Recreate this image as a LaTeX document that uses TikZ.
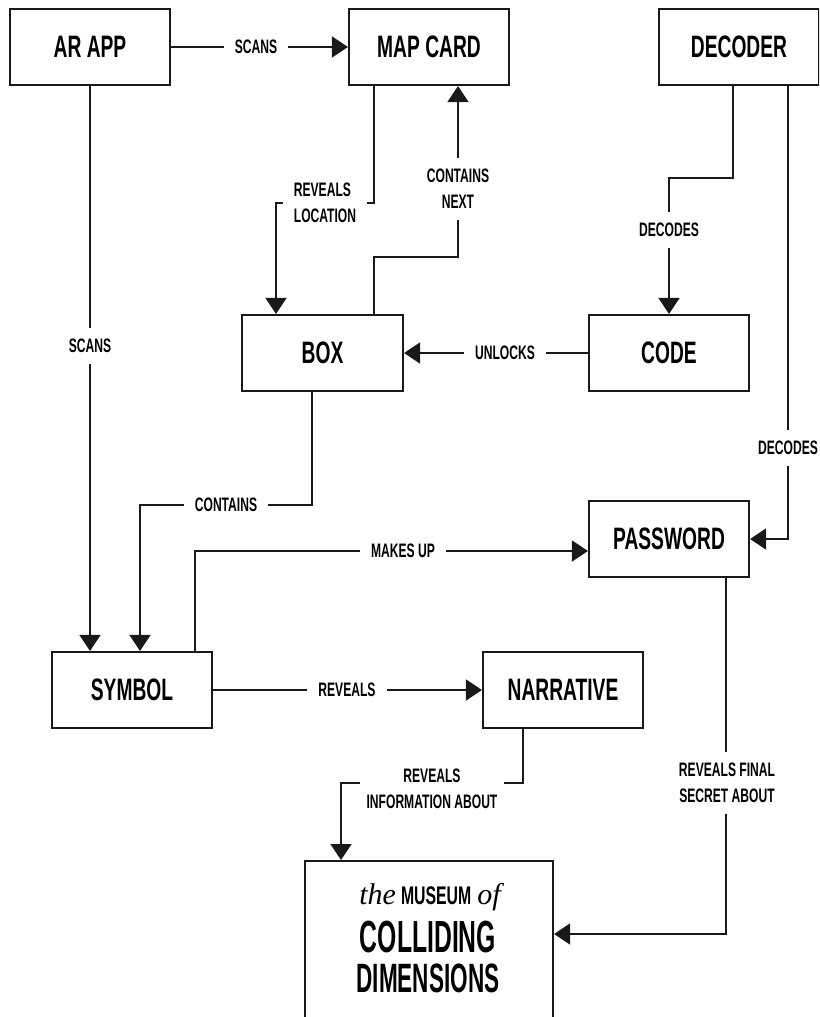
\documentclass[tikz,border=0pt]{standalone}
\usepackage{fontspec}
\usetikzlibrary{arrows.meta}
\newfontfamily\bebas{Liberation Sans}[UprightFont={* Bold},FakeStretch=0.62]
\newfontfamily\bebasN{Liberation Sans}[UprightFont={* Bold},FakeStretch=0.55]
\newfontfamily\garit{Liberation Serif}[UprightFont={* Italic}]
\begin{document}
\begin{tikzpicture}[x=1pt,y=-1pt]
\tikzset{
  ent/.style={draw=black!90, line width=2.2pt, minimum width=160pt, minimum height=76pt, inner sep=0pt, font=\bebas\fontsize{31}{36}\selectfont},
  conn/.style={line width=1.9pt, draw=black!90},
  arr/.style={conn, -{Triangle[width=21pt,length=16pt]}},
  lbl/.style={fill=white, inner xsep=11pt, inner ysep=11pt, font=\bebas\fontsize{19.5}{26}\selectfont, align=center},
}
\clip (0,0) rectangle (819,1017);
\fill[white] (0,0) rectangle (819,1017);

% entities
\node[ent] (arapp) at (90,47) {AR APP};
\node[ent] (mapcard) at (429,47) {MAP CARD};
\node[ent] (decoder) at (739,47) {DECODER};
\node[ent, minimum width=161pt] (box) at (322.5,353) {BOX};
\node[ent] (code) at (669,353) {CODE};
\node[ent] (password) at (669,539) {PASSWORD};
\node[ent] (symbol) at (132,690) {SYMBOL};
\node[ent] (narrative) at (563,690) {NARRATIVE};
\node[draw=black!90, line width=2.2pt, minimum width=248pt, minimum height=240pt, anchor=north] (museum) at (429,860) {};
\node[anchor=base, inner sep=0pt] (mt1) at (430,904) {{\garit\fontsize{30}{30}\selectfont the}\hspace{5pt}{\bebas\fontsize{25.5}{25.5}\selectfont MUSEUM}\hspace{6pt}{\garit\fontsize{30}{30}\selectfont of}};
\node[anchor=base, inner sep=0pt, font=\bebasN\fontsize{45}{45}\selectfont] (mt2) at (428,952) {COLLIDING};
\node[anchor=base, inner sep=0pt, font=\bebasN\fontsize{41}{41}\selectfont] (mt3) at (428,992) {DIMENSIONS};

% connectors
\draw[arr] (arapp.east) -- (mapcard.west);
\node[lbl] (l1) at (256,47) {SCANS};

\draw[arr] (arapp.south) -- (arapp.south |- symbol.north);
\node[lbl] (l2) at (90,346) {SCANS};

\coordinate (a1) at (374,203);
\coordinate (a2) at (276,203);
\draw[arr] (mapcard.south -| a1) -- (a1) -- (a2) -- (box.north -| a2);
\node[lbl, align=left] (l3) at (325,203) {REVEALS\\LOCATION};

\coordinate (b1) at (374,257);
\coordinate (b2) at (458,257);
\draw[arr] (box.north -| b1) -- (b1) -- (b2) -- (mapcard.south -| b2);
\node[lbl] (l4) at (458,189) {CONTAINS\\NEXT};

\coordinate (c1) at (733,178);
\coordinate (c2) at (669,178);
\draw[arr] (decoder.south -| c1) -- (c1) -- (c2) -- (code.north);
\node[lbl] (l5) at (669,230) {DECODES};

\coordinate (d1) at (788,539);
\draw[arr] (decoder.south -| d1) -- (d1) -- (password.east);
\node[lbl] (l6) at (788,448) {DECODES};

\draw[arr] (code.west) -- (box.east);
\node[lbl] (l7) at (505,353) {UNLOCKS};

\coordinate (e1) at (312,505);
\coordinate (e2) at (140,505);
\draw[arr] (box.south -| e1) -- (e1) -- (e2) -- (symbol.north -| e2);
\node[lbl] (l8) at (226,505) {CONTAINS};

\coordinate (f1) at (195,551);
\draw[arr] (symbol.north -| f1) -- (f1) -- (password.west |- f1);
\node[lbl] (l9) at (403,551) {MAKES UP};

\draw[arr] (symbol.east) -- (narrative.west);
\node[lbl] (l10) at (347,690) {REVEALS};

\coordinate (g1) at (523,783);
\coordinate (g2) at (341,783);
\draw[arr] (narrative.south -| g1) -- (g1) -- (g2) -- (museum.north -| g2);
\node[lbl, inner xsep=7pt] (l11) at (432,789) {REVEALS\\INFORMATION ABOUT};

\coordinate (h1) at (726,934);
\draw[arr] (password.south -| h1) -- (h1) -- (museum.east |- h1);
\node[lbl] (l12) at (727,783) {REVEALS FINAL\\SECRET ABOUT};
\end{tikzpicture}
\end{document}
